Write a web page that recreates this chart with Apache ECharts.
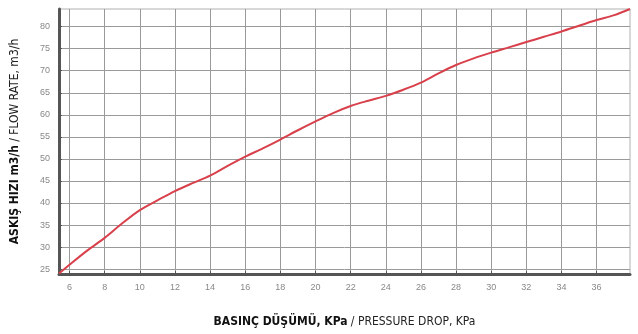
<!DOCTYPE html>
<html>
<head>
<meta charset="utf-8">
<script src="https://cdn.jsdelivr.net/npm/echarts@6/dist/echarts.min.js"></script>
<style>
  html, body { margin: 0; padding: 0; background: #fff; }
  #chart { width: 638px; height: 334px; }
</style>
</head>
<body>
<div id="chart"></div>
<script>
// pressure drop (KPa) vs flow rate (m3/h)
const pressureDrop = [5.4, 6, 7, 8, 9, 10, 11, 12, 13, 14, 15, 16, 17, 18, 19, 20, 21, 22, 23, 24, 25, 26, 27, 28, 29, 30, 31, 32, 33, 34, 35, 36, 37, 37.9];
const flowRate = [24.0, 26.0, 29.2, 32.1, 35.4, 38.4, 40.6, 42.7, 44.5, 46.2, 48.4, 50.5, 52.4, 54.4, 56.5, 58.5, 60.4, 62.0, 63.2, 64.3, 65.7, 67.3, 69.4, 71.3, 72.8, 74.1, 75.3, 76.5, 77.7, 78.9, 80.2, 81.5, 82.6, 84.0];
const xTicks = [6, 8, 10, 12, 14, 16, 18, 20, 22, 24, 26, 28, 30, 32, 34, 36];
const yTicks = [25, 30, 35, 40, 45, 50, 55, 60, 65, 70, 75, 80];

const font = '"Liberation Sans Narrow", "DejaVu Sans Condensed", sans-serif';

const myChart = echarts.init(document.getElementById('chart'));

const option = {
  animation: false,
  grid: {
    left: 59, right: 8, top: 9, bottom: 60,
    show: true, borderColor: '#b0b0b0', borderWidth: 1
  },
  xAxis: {
    type: 'value',
    min: 5.4,
    max: 37.9,
    name: '{b|BASINÇ DÜŞÜMÜ, KPa} {n|/ PRESSURE DROP, KPa}',
    nameLocation: 'middle',
    nameGap: 42,
    nameTextStyle: {
      rich: {
        b: { fontFamily: font, fontWeight: 'bold', fontSize: 12, color: '#111' },
        n: { fontFamily: font, fontSize: 12, color: '#222' }
      }
    },
    axisLine: { show: true, onZero: false, lineStyle: { color: '#555', width: 3 } },
    axisTick: { show: true, customValues: xTicks, length: 3, inside: true, lineStyle: { color: '#555' } },
    axisLabel: { customValues: xTicks, color: '#888', fontSize: 9, margin: 9 },
    splitLine: { show: true, lineStyle: { color: '#9a9a9a', width: 1 } }
  },
  yAxis: {
    type: 'value',
    min: 23.9,
    max: 84,
    name: '{b|ASKIŞ HIZI m3/h} {n|/ FLOW RATE, m3/h}',
    nameLocation: 'middle',
    nameGap: 38,
    nameRotate: 90,
    nameTextStyle: {
      rich: {
        b: { fontFamily: font, fontWeight: 'bold', fontSize: 12, color: '#111' },
        n: { fontFamily: font, fontSize: 12, color: '#222' }
      }
    },
    axisLine: { show: true, onZero: false, lineStyle: { color: '#555', width: 3 } },
    axisTick: { show: true, customValues: yTicks, length: 3, inside: true, lineStyle: { color: '#555' } },
    axisLabel: { customValues: yTicks, color: '#888', fontSize: 9, margin: 9 },
    splitLine: { show: true, lineStyle: { color: '#9a9a9a', width: 1 } }
  },
  series: [{
    type: 'line',
    data: pressureDrop.map((x, i) => [x, flowRate[i]]),
    showSymbol: false,
    smooth: 0.3,
    lineStyle: { color: '#d8414c', width: 2 }
  }]
};

myChart.setOption(option);
</script>
</body>
</html>
